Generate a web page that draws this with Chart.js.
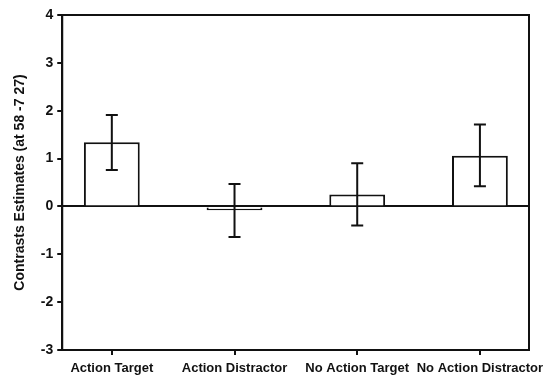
<!DOCTYPE html>
<html>
<head>
<meta charset="UTF-8">
<title>Contrast estimates</title>
<script src="https://cdn.jsdelivr.net/npm/chart.js"></script>
<style>
  body, html { margin: 0; padding: 0; background: #fff; }
  #wrap { width: 549px; height: 381px; }
</style>
</head>
<body>
<div id="wrap"><canvas id="chart"></canvas></div>
<script>
const categories = ['Action Target', 'Action Distractor', 'No Action Target', 'No Action Distractor'];
const estimates = [1.34, -0.08, 0.25, 1.06];
const errHigh = [1.91, 0.47, 0.90, 1.71];
const errLow = [0.76, -0.64, -0.40, 0.42];
const yTicks = [-3, -2, -1, 0, 1, 2, 3, 4];

// box round the plot area
const frame = {
  id: 'frame',
  afterDraw(chart) {
    const a = chart.chartArea, ctx = chart.ctx;
    ctx.save();
    ctx.strokeStyle = '#111';
    ctx.lineWidth = 2;
    ctx.strokeRect(a.left, a.top, a.right - a.left, a.bottom - a.top);
    ctx.restore();
  }
};

// error bars drawn with the chart's scales
const errorBars = {
  id: 'errorBars',
  afterDatasetsDraw(chart) {
    const x = chart.scales.x, y = chart.scales.y, ctx = chart.ctx;
    ctx.save();
    ctx.strokeStyle = '#111';
    ctx.lineWidth = 2;
    errHigh.forEach((hi, i) => {
      const px = x.getPixelForValue(i);
      const top = y.getPixelForValue(hi);
      const bot = y.getPixelForValue(errLow[i]);
      ctx.beginPath();
      ctx.moveTo(px, top); ctx.lineTo(px, bot);
      ctx.moveTo(px - 6, top); ctx.lineTo(px + 6, top);
      ctx.moveTo(px - 6, bot); ctx.lineTo(px + 6, bot);
      ctx.stroke();
    });
    ctx.restore();
  }
};

new Chart(document.getElementById('chart'), {
  type: 'bar',
  data: {
    datasets: [{
      data: estimates.map((v, i) => ({ x: i, y: v })),
      backgroundColor: '#fff',
      borderColor: '#111',
      borderWidth: 2,
      categoryPercentage: 1,
      barPercentage: 0.455
    }]
  },
  options: {
    responsive: true,
    maintainAspectRatio: false,
    animation: false,
    layout: { padding: { top: 15, right: 20, left: 12, bottom: 5 } },
    plugins: { legend: { display: false }, tooltip: { enabled: false } },
    scales: {
      x: {
        type: 'linear',
        offset: false,
        min: -0.404,
        max: 3.4,
        afterBuildTicks: s => { s.ticks = categories.map((c, i) => ({ value: i })); },
        afterFit: s => { s.paddingLeft = 0; s.paddingRight = 0; s.height = 26; },
        ticks: {
          callback: v => categories[v],
          color: '#111',
          font: { family: 'Liberation Sans', size: 13, weight: 'bold' },
          maxRotation: 0,
          autoSkip: false,
          padding: 6
        },
        grid: { offset: false, color: 'transparent', tickColor: '#111', tickLength: 5, lineWidth: 2 },
        border: { color: '#111', width: 2 }
      },
      y: {
        min: -3,
        max: 4,
        afterBuildTicks: s => { s.ticks = yTicks.map(v => ({ value: v })); },
        afterFit: s => { s.paddingTop = 0; s.paddingBottom = 0; },
        ticks: {
          color: '#111',
          font: { family: 'Liberation Sans', size: 14, weight: 'bold' },
          padding: 4
        },
        grid: {
          color: c => (c.tick && c.tick.value === 0) ? '#111' : 'transparent',
          tickColor: '#111',
          tickLength: 5,
          lineWidth: 2
        },
        border: { color: '#111', width: 2 },
        title: {
          display: true,
          text: 'Contrasts Estimates (at 58 -7 27)',
          color: '#111',
          font: { family: 'Liberation Sans', size: 14, weight: 'bold' },
          padding: { top: 0, bottom: 8 }
        }
      }
    }
  },
  plugins: [frame, errorBars]
});
</script>
</body>
</html>
